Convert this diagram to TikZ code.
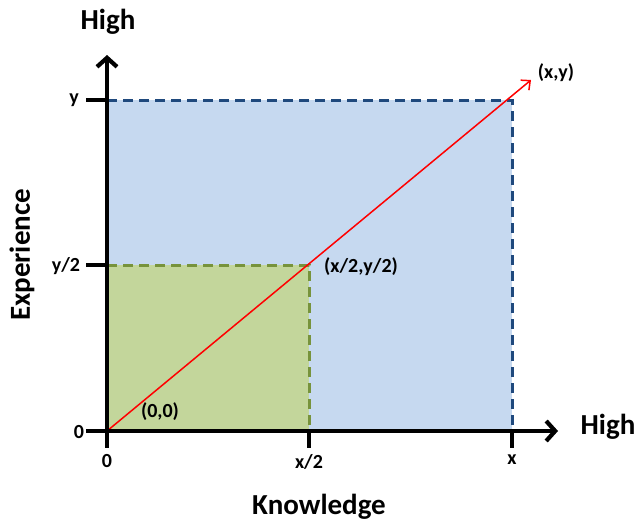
\documentclass[tikz,border=0pt]{standalone}
\usepackage{fontspec}
\setmainfont{Carlito}
\usetikzlibrary{arrows.meta}
\definecolor{bluefill}{HTML}{C6D9F0}
\definecolor{greenfill}{HTML}{C3D69B}
\definecolor{bluedash}{HTML}{1F497D}
\definecolor{greendash}{HTML}{77933C}
\tikzset{
  axis/.style={line width=4.2pt, black},
  tick/.style={line width=3.4pt, black},
  bdash/.style={line width=3pt, bluedash, dash pattern=on 10pt off 6pt},
  gdash/.style={line width=3pt, greendash, dash pattern=on 10pt off 6pt},
  lbl/.style={font=\bfseries\fontsize{20}{22}\selectfont, inner sep=0pt},
  big/.style={font=\bfseries\fontsize{29}{32}\selectfont, inner sep=0pt},
}
\begin{document}
\begin{tikzpicture}[x=1pt,y=-1pt]
\useasboundingbox (0,0) rectangle (636,522);
% fills
\fill[bluefill] (107,100) rectangle (512,431);
\fill[greenfill] (107,265) rectangle (309,431);
% coordinates
\coordinate (O) at (107,431);
\coordinate (Ytop) at (107,55);
\coordinate (Xend) at (558,431);
\coordinate (Ymax) at (107,100);
\coordinate (Yhalf) at (107,265);
\coordinate (XY) at (512,100);
\coordinate (XYh) at (309,265);
\coordinate (Xmax) at (512,431);
\coordinate (Xhalf) at (309,431);
\coordinate (Tip) at (531,80);
% dashed borders
\draw[bdash] (Ymax) -- (XY) -- (Xmax);
\draw[gdash] (Yhalf) -- (XYh) -- (Xhalf);
% red line
\draw[red, line width=1.5pt, -{Straight Barb[length=7pt,width=13pt]}] (O) -- (Tip);
% ticks
\draw[tick] (Ymax) -- ++(-21,0);
\draw[tick] (Yhalf) -- ++(-21,0);
\draw[tick] (O) -- ++(-21,0);
\draw[tick] (O) -- ++(0,17);
\draw[tick] (Xhalf) -- ++(0,17);
\draw[tick] (Xmax) -- ++(0,17);
% axes
\draw[axis, -{Straight Barb[length=9pt,width=20pt,line width=4.2pt]}] (107,433) -- (Ytop);
\draw[axis, -{Straight Barb[length=9pt,width=20pt,line width=4.2pt]}] (105,431) -- (Xend);
% labels
\node[big] (hy) at (108,22) {High};
\node[big] (hx) at (608,427) {High};
\node[big] (kn) at (319,507) {Knowledge};
\node[big, rotate=90] (ex) at (22,255) {Experience};
\node[lbl] (ly) at (74,100) {y};
\node[lbl] (lyh) at (66,266) {y/2};
\node[lbl] (l0y) at (79,432) {0};
\node[lbl] (l0x) at (107,461) {0};
\node[lbl] (lxh) at (309,462) {x/2};
\node[lbl] (lx) at (512,460) {x};
\node[lbl] (p0) at (160,412) {(0,0)};
\node[lbl] (ph) at (361,267) {(x/2,y/2)};
\node[lbl] (pf) at (556,73) {(x,y)};
\end{tikzpicture}
\end{document}
